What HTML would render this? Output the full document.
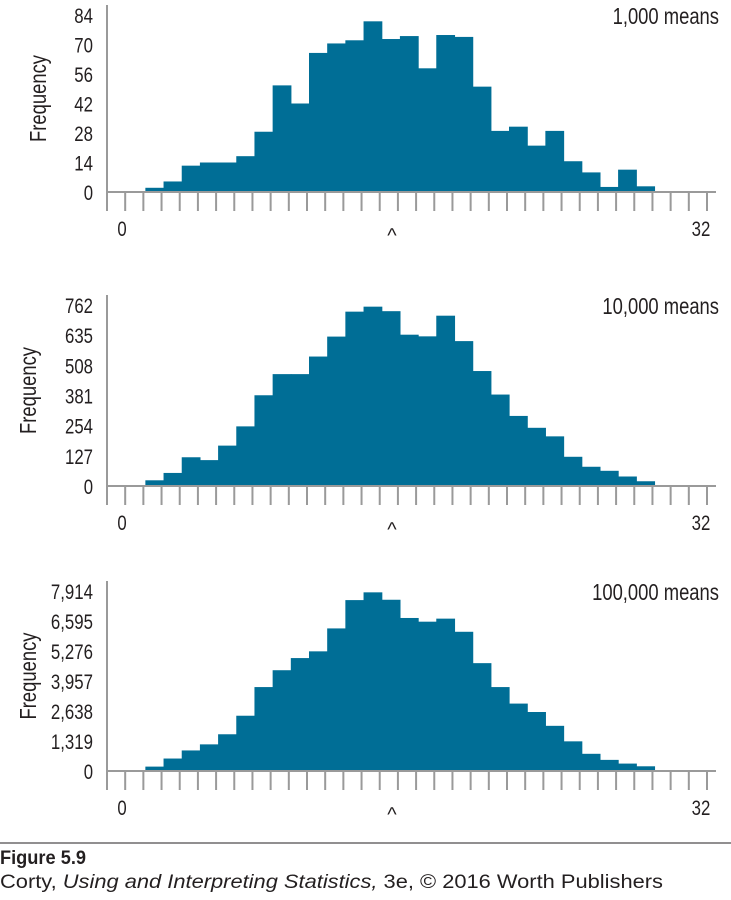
<!DOCTYPE html>
<html><head><meta charset="utf-8"><style>
body{margin:0;background:#fff;width:731px;height:900px;overflow:hidden}
svg{display:block}
text{font-family:"Liberation Sans",sans-serif;fill:#231f20}
</style></head><body>
<svg id="fig" width="731" height="900">
<line x1="0" y1="843" x2="731" y2="843" stroke="#231f20" stroke-width="1"/>
<text x="0" y="864" font-weight="bold" font-size="19" textLength="86" lengthAdjust="spacingAndGlyphs">Figure 5.9</text>
<text x="0" y="888" font-size="19" textLength="663" lengthAdjust="spacingAndGlyphs">Corty, <tspan font-style="italic">Using and Interpreting Statistics,</tspan> 3e, © 2016 Worth Publishers</text>
</svg>
<script>
const bins1=[2,5,12.5,14,14,17,28.6,50.6,42,66,70.5,72,81,72.6,74,58.7,74.5,73.6,50,29,31,22,29,14.6,9.3,2.4,10.6,2.7];
const bins2=[24,55,121,109,170,251,382,471,471,545,629,734,755,736,637,630,717,610,484,385,295,245,209,123,81,64,40,20];
const bins3=[193,548,904,1171,1615,2430,3690,4431,4965,5261,6269,7514,7855,7529,6728,6565,6699,6121,4742,3690,2964,2594,1986,1304,756,489,326,207];
const ticks1=[0,14,28,42,56,70,84];
const ticks2=[0,127,254,381,508,635,762];
const ticks3=[0,1319,2638,3957,5276,6595,7914];
const labels1=["0","14","28","42","56","70","84"];
const labels2=["0","127","254","381","508","635","762"];
const labels3=["0","1,319","2,638","3,957","5,276","6,595","7,914"];
const titles=["1,000 means","10,000 means","100,000 means"];
const firstBin=2;
const NS="http://www.w3.org/2000/svg";
const svg=document.getElementById('fig');
function mk(tag,attrs,parent){const e=document.createElementNS(NS,tag);for(const k in attrs)e.setAttribute(k,attrs[k]);(parent||svg).appendChild(e);return e;}
function squeeze(t,f){const w=t.getComputedTextLength();t.setAttribute('textLength',(w*f).toFixed(1));t.setAttribute('lengthAdjust','spacingAndGlyphs');}
function panel(idx,bins,ticks,labels,title,top,base){
  const g=mk('g',{});
  
  
  const x0=107,step=600/33,maxV=ticks[ticks.length-1];
  const yS=v=>base-(v/maxV)*(base-top-10);
  const xS=i=>x0+i*step;
  bins.forEach((v,i)=>{
    const r=mk('rect',{x:xS(firstBin+i)+2,y:yS(v),width:step+0.6,height:base-yS(v),fill:'#006e96'},g);
    
    
  });
  const ya=mk('line',{x1:x0,y1:top,x2:x0,y2:base,stroke:'#9a9a9a','stroke-width':2},g);
  
  
  const xa=mk('line',{x1:x0,y1:base,x2:716,y2:base,stroke:'#9a9a9a','stroke-width':2},g);
  
  
  for(let i=0;i<=33;i++){
    const t=mk('line',{x1:xS(i),y1:base,x2:xS(i),y2:base+19,stroke:'#9a9a9a','stroke-width':2},g);
    
    
  }
  ticks.forEach((v,i)=>{
    const t=mk('text',{x:93,y:yS(v)+8,'text-anchor':'end','font-size':21},g);
    t.textContent=labels[i];
    
    
    squeeze(t,0.8);
  });
  const yt=mk('text',{x:0,y:0,'font-size':23,'text-anchor':'middle',transform:`translate(${idx==0?46:36},${(top+base)/2}) rotate(-90)`},g);
  yt.textContent='Frequency';
  
  
  squeeze(yt,0.8);
  const tt=mk('text',{x:719,y:top+19,'text-anchor':'end','font-size':23},g);
  tt.textContent=title;
  
  
  squeeze(tt,0.8);
  const l0=mk('text',{x:122,y:base+44,'text-anchor':'middle','font-size':21},g);
  l0.textContent='0';
  
  
  squeeze(l0,0.8);
  const l32=mk('text',{x:701,y:base+44,'text-anchor':'middle','font-size':21},g);
  l32.textContent='32';
  
  
  squeeze(l32,0.8);
  const mu=mk('text',{x:392,y:base+50,'text-anchor':'middle','font-size':20},g);
  mu.textContent='^';
  
  
}
panel(0,bins1,ticks1,labels1,titles[0],5,192);
panel(1,bins2,ticks2,labels2,titles[1],295,486);
panel(2,bins3,ticks3,labels3,titles[2],581,771);
</script>
</body></html>
